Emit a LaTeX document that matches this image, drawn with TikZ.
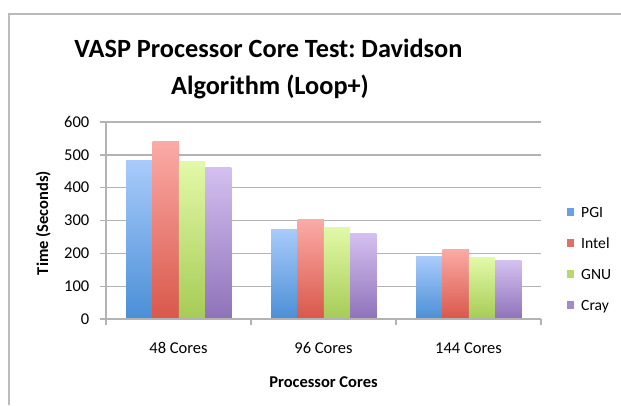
\documentclass[tikz,border=0pt]{standalone}
\usepackage{fontspec}
\setmainfont{Carlito}
\frenchspacing
\usetikzlibrary{shadings}
\definecolor{frame}{HTML}{BBBBBB}
\definecolor{grid}{HTML}{B3B3B3}
\definecolor{pgiT}{HTML}{A9CBFB}\definecolor{pgiB}{HTML}{4A8FD6}
\definecolor{intT}{HTML}{FBABA6}\definecolor{intB}{HTML}{D9574A}
\definecolor{gnuT}{HTML}{E2F9A8}\definecolor{gnuB}{HTML}{A6CB55}
\definecolor{crayT}{HTML}{D4C0F0}\definecolor{crayB}{HTML}{8E72B9}
\begin{document}
\begin{tikzpicture}[x=1pt,y=-1pt,
  gridline/.style={draw=grid,line width=1.3pt},
  axisline/.style={draw=grid,line width=1.3pt},
  ticklab/.style={font=\fontsize{16.5}{18}\selectfont,anchor=east,inner sep=0pt},
  catlab/.style={font=\fontsize{16.5}{18}\selectfont,anchor=base,inner sep=0pt},
  axtitle/.style={font=\fontsize{16.5}{18}\selectfont\bfseries,inner sep=0pt},
  titlab/.style={font=\fontsize{26.3}{28}\selectfont\bfseries\frenchspacing,anchor=base,inner sep=0pt},
  leglab/.style={font=\fontsize{15.6}{18}\selectfont,anchor=base west,inner sep=0pt},
  legkey/.style={minimum size=7.5pt,inner sep=0pt,anchor=center}]
\useasboundingbox (0,0) rectangle (621,405);
\fill[white] (0,0) rectangle (621,405);
% frame
\draw[frame,line width=1.5pt] (9,405) -- (9,14) -- (621,14);
% title
\node[titlab] (t1) at (268.5,57) {VASP Processor Core Test: Davidson};
\node[titlab] (t2) at (270,94) {Algorithm (Loop+)};
% gridlines and y labels
\foreach \v in {100,200,300,400,500,600}{
  \draw[gridline] (100,{319-0.3283*\v}) -- (541,{319-0.3283*\v});
}
\foreach \v in {0,100,200,300,400,500,600}{
  \node[ticklab] (yl\v) at (89.5,{319-0.3283*\v}) {\v};
}
% bars
\newcommand{\onebar}[4]{% left x, value, top colour, bottom colour
  \shade[top color=#3,bottom color=#4] (#1,319) rectangle ({#1+26.3},{319-0.3283*#2});}
\foreach \g/\a/\b/\c/\d in {0/484/542/481/463,1/274/302/280/259,2/189/213/186/177}{
  \pgfmathsetmacro{\xl}{106+145*\g+20.2}
  \onebar{\xl}{\a}{pgiT}{pgiB}
  \onebar{\xl+26.3}{\b}{intT}{intB}
  \onebar{\xl+52.6}{\c}{gnuT}{gnuB}
  \onebar{\xl+78.9}{\d}{crayT}{crayB}
}
% axes
\draw[axisline] (100,319) -- (541,319);
\draw[axisline] (106,122.0) -- (106,325);
\foreach \x in {251,396,541}{ \draw[axisline] (\x,319) -- (\x,325); }
% category labels
\node[catlab] (c1) at (178.5,353) {48 Cores};
\node[catlab] (c2) at (323.5,353) {96 Cores};
\node[catlab] (c3) at (468.5,353) {144 Cores};
% axis titles
\node[axtitle,anchor=base] (xt) at (323.5,387) {Processor Cores};
\node[axtitle,anchor=base,rotate=90] (yt) at (48,223) {Time (Seconds)};
% legend
\node[legkey,fill=pgiB!70!pgiT] (k1) at (570.5,212) {};
\node[legkey,fill=intB!70!intT] (k2) at (570.5,243) {};
\node[legkey,fill=gnuB!70!gnuT] (k3) at (570.5,274) {};
\node[legkey,fill=crayB!70!crayT] (k4) at (570.5,305) {};
\node[leglab] (l1) at (581,217) {PGI};
\node[leglab] (l2) at (581,248) {Intel};
\node[leglab] (l3) at (581,279) {GNU};
\node[leglab] (l4) at (581,310) {Cray};
\end{tikzpicture}
\end{document}
